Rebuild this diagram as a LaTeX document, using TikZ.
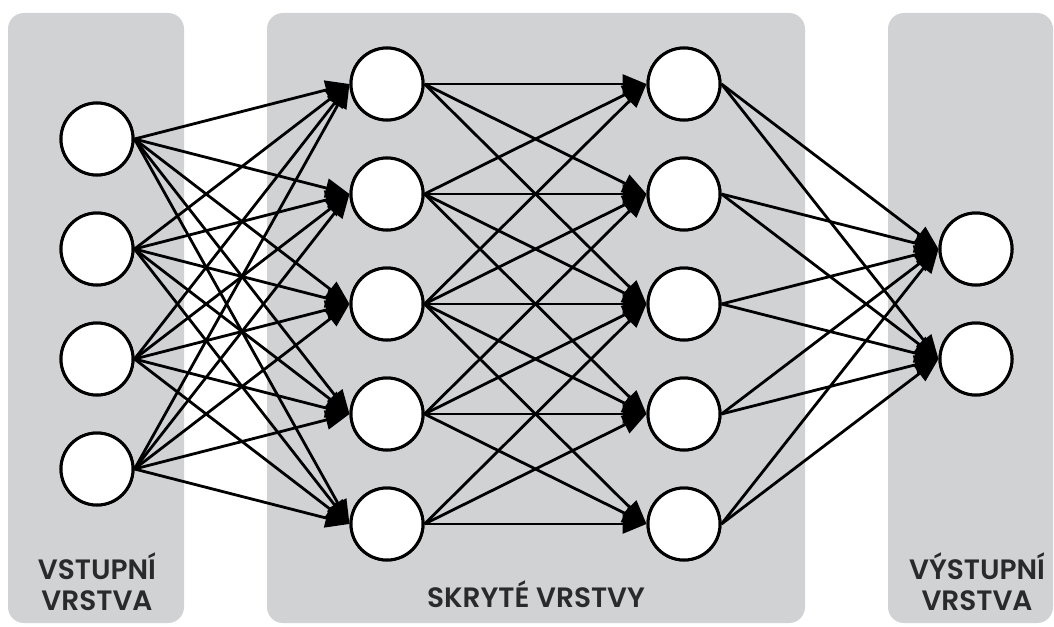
\documentclass[tikz,border=0pt]{standalone}
\usepackage{fontspec}
\setmainfont{Poppins SemiBold}
\usetikzlibrary{arrows.meta}
\definecolor{panel}{HTML}{D1D2D4}
\definecolor{labeltext}{HTML}{2A2A2C}
\tikzset{
  neuron/.style={circle,draw=black,fill=white,line width=3pt,minimum size=72pt,inner sep=0pt},
  panelbox/.style={fill=panel,rounded corners=16pt,draw=none},
  conn/.style={line width=2.8pt,-{Triangle[length=24pt,width=19pt]}},
  lbl/.style={font=\fontsize{28}{31}\selectfont,align=center,text=labeltext}
}
\begin{document}
\begin{tikzpicture}[x=1pt,y=-1pt]
\useasboundingbox (0,0) rectangle (1054,626);
\fill[white] (0,0) rectangle (1054,626);
\path[panelbox] (8,13) rectangle (184,623);
\path[panelbox] (267,13) rectangle (805,623);
\path[panelbox] (888,13) rectangle (1053,623);
% nodes
\foreach \k/\y in {1/139,2/249,3/359,4/469} \node[neuron] (i\k) at (97,\y) {};
\foreach \k/\y in {1/84,2/194,3/304,4/414,5/524} \node[neuron] (h\k) at (387,\y) {};
\foreach \k/\y in {1/84,2/194,3/304,4/414,5/524} \node[neuron] (g\k) at (684,\y) {};
\foreach \k/\y in {1/249,2/359} \node[neuron] (o\k) at (976,\y) {};
% connections
\foreach \a in {1,...,4} \foreach \b in {1,...,5} \draw[conn] (i\a.east) -- (h\b.west);
\foreach \a/\bs in {1/{1,2,3},2/{1,2,3,4},3/{1,2,3,4,5},4/{2,3,4,5},5/{3,4,5}}
  \foreach \b in \bs \draw[conn] (h\a.east) -- (g\b.west);
\foreach \a in {1,...,5} \foreach \b in {1,2} \draw[conn] (g\a.east) -- (o\b.west);
% redraw node faces on top of the connectors
\foreach \k/\y in {1/139,2/249,3/359,4/469} \node[neuron] at (97,\y) {};
\foreach \k/\y in {1/84,2/194,3/304,4/414,5/524} \node[neuron] at (387,\y) {};
\foreach \k/\y in {1/84,2/194,3/304,4/414,5/524} \node[neuron] at (684,\y) {};
\foreach \k/\y in {1/249,2/359} \node[neuron] at (976,\y) {};
% labels
\node[lbl] (l1) at (97,582) {VSTUPNÍ\\VRSTVA};
\node[lbl,anchor=base] (l2) at (536,607) {SKRYTÉ VRSTVY};
\node[lbl] (l3) at (977,582) {VÝSTUPNÍ\\VRSTVA};
\end{tikzpicture}
\end{document}
